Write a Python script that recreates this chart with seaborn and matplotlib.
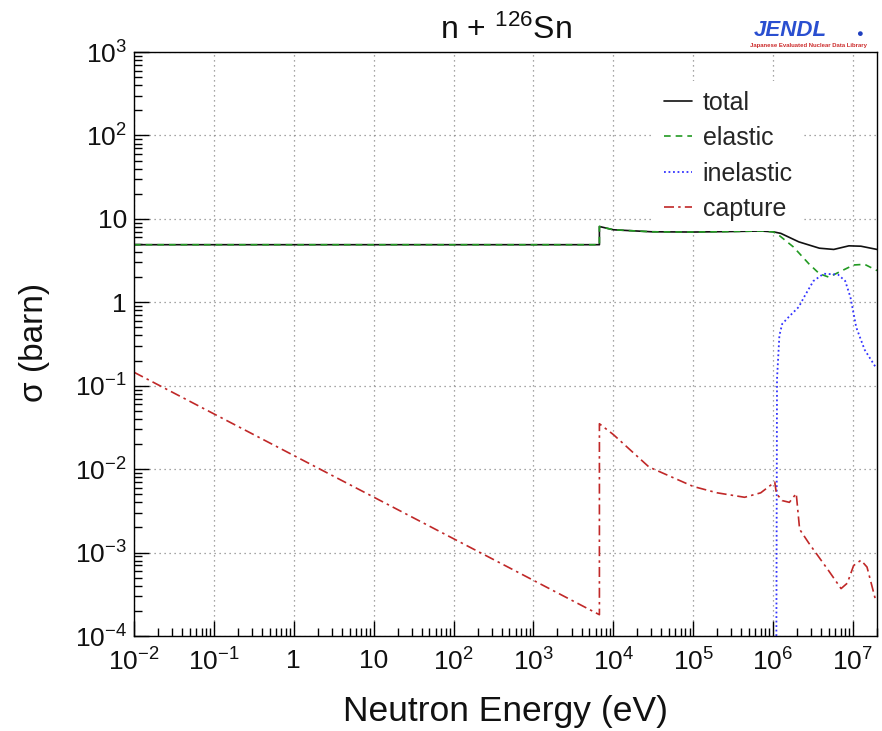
import numpy as np
import pandas as pd
import matplotlib
matplotlib.use("Agg")
import matplotlib.pyplot as plt
from matplotlib.ticker import LogLocator, FuncFormatter, NullFormatter
import seaborn as sns

# Evaluated cross sections for n + 126Sn (energy in eV, cross section in barn)
total_energy = [1e-2, 6.7e3, 6.7e3, 1e4, 3e4, 1e5, 3e5, 7e5, 1e6, 1.25e6,
                2.1e6, 3.8e6, 5.75e6, 8.9e6, 1.26e7, 2e7]
total_xs = [4.9, 4.9, 8.1, 7.4, 7.0, 6.95, 7.05, 7.15, 7.0, 6.7,
            5.3, 4.45, 4.3, 4.75, 4.7, 4.3]

elastic_energy = [1e-2, 6.7e3, 6.7e3, 1e4, 3e4, 1e5, 3e5, 7e5, 1e6, 1.2e6,
                  1.8e6, 2.8e6, 3.8e6, 5e6, 6.7e6, 1.02e7, 1.4e7, 2e7]
elastic_xs = [4.9, 4.9, 8.1, 7.4, 7.0, 6.95, 7.05, 7.15, 7.0, 6.3,
              4.6, 2.9, 2.2, 2.0, 2.3, 2.8, 2.85, 2.4]

inelastic_energy = [1.1e6, 1.12e6, 1.2e6, 1.3e6, 1.6e6, 2.1e6, 2.5e6, 3.2e6,
                    4.3e6, 6.5e6, 8e6, 9.3e6, 1.1e7, 1.4e7, 1.9e7]
inelastic_xs = [1e-4, 0.12, 0.4, 0.55, 0.68, 0.88, 1.2, 1.8,
                2.2, 2.15, 1.8, 1.15, 0.5, 0.27, 0.17]

capture_energy = [1e-2, 6.7e3, 6.7e3, 1e4, 2.8e4, 1e5, 2e5, 4.4e5, 7e5, 1.05e6,
                  1.1e6, 1.3e6, 1.6e6, 1.95e6, 2.15e6, 2.8e6, 5e6, 7.1e6,
                  8.5e6, 1.02e7, 1.26e7, 1.5e7, 1.9e7]
capture_xs = [0.145, 1.8e-4, 0.035, 0.026, 0.0106, 0.0062, 0.0052, 0.0046, 0.0052, 0.0070,
              0.0051, 0.0042, 0.0040, 0.0051, 0.0019, 0.0013, 6e-4, 3.7e-4,
              4.3e-4, 7e-4, 8.1e-4, 6.7e-4, 2.8e-4]

x_limits = (1e-2, 2e7)
y_limits = (1e-4, 1e3)

sns.set_theme(style="white")
plt.rcParams["font.family"] = ["Liberation Sans", "DejaVu Sans"]
plt.rcParams["mathtext.default"] = "regular"

W, H = 882, 731
fig = plt.figure(figsize=(W / 100, H / 100), dpi=100)
left, right, top, bottom = 134, 877, 52, 636
ax = fig.add_axes([left / W, 1 - bottom / H, (right - left) / W, (bottom - top) / H])
ax.set_xscale("log")
ax.set_yscale("log")

series = [
    ("total", total_energy, total_xs, "#111111", "-", 1.2),
    ("elastic", elastic_energy, elastic_xs, "#229a22", (0, (4, 3)), 1.2),
    ("inelastic", inelastic_energy, inelastic_xs, "#3333ff", (0, (1, 1.5)), 1.3),
    ("capture", capture_energy, capture_xs, "#c02828", (0, (6, 2.5, 1.5, 2.5)), 1.2),
]
for name, e, xs, color, ls, lw in series:
    df = pd.DataFrame({"energy": e, "xs": xs})
    sns.lineplot(data=df, x="energy", y="xs", ax=ax, estimator=None, sort=False,
                 color=color, linestyle=ls, linewidth=lw, label=name)

ax.set_xlim(*x_limits)
ax.set_ylim(*y_limits)


def decade_label(v, pos):
    e = int(round(np.log10(v)))
    if e == 0:
        return "1"
    if e == 1:
        return "10"
    return f"$10^{{{e}}}$"


for axis in (ax.xaxis, ax.yaxis):
    axis.set_major_locator(LogLocator(base=10, numticks=20))
    axis.set_minor_locator(LogLocator(base=10, subs=np.arange(2, 10), numticks=20))
    axis.set_major_formatter(FuncFormatter(decade_label))
    axis.set_minor_formatter(NullFormatter())

ax.tick_params(axis="both", which="both", bottom=True, left=True, top=False, right=False)
ax.tick_params(axis="both", which="major", direction="in", length=11, width=1,
               color="black", labelsize=19, labelcolor="#111111")
ax.tick_params(axis="both", which="minor", direction="in", length=5.5, width=1,
               color="black")
ax.tick_params(axis="x", which="major", pad=9)
ax.tick_params(axis="y", which="major", pad=5)

ax.grid(True, which="major", color="#888888", linestyle=(0, (1, 3)), linewidth=0.9)
for s in ax.spines.values():
    s.set_color("black")
    s.set_linewidth(1)
ax.set_xlabel("")
ax.set_ylabel("")

leg = ax.legend(loc="upper left", bbox_to_anchor=(0.70, 0.951), frameon=True,
                fontsize=18, handlelength=1.12, handletextpad=0.42,
                labelspacing=0.46, borderpad=0.4, borderaxespad=0)
leg.get_frame().set_facecolor("white")
leg.get_frame().set_edgecolor("none")
leg.get_frame().set_alpha(1)

fig.text(505.5 / W, 1 - 30 / H, "n + $^{126}$Sn", ha="center", va="center",
         fontsize=23, color="#111111")
fig.text(505.5 / W, 1 - 712 / H, "Neutron Energy (eV)", ha="center", va="center",
         fontsize=25.5, color="#111111")
fig.text(35 / W, 1 - 342 / H, "σ (barn)", ha="center", va="center",
         rotation=90, fontsize=24, color="#111111")

# JENDL badge in the top right corner
fig.text(790 / W, 1 - 31 / H, "JENDL", ha="center", va="center", fontsize=16,
         style="italic", weight="bold", color="#2a4fd0")
fig.text(859 / W, 1 - 34 / H, "●", ha="center", va="center", fontsize=8,
         color="#1f3fbf")
fig.text(808 / W, 1 - 45 / H, "Japanese Evaluated Nuclear Data Library",
         ha="center", va="center", fontsize=4.3, weight="bold", color="#cc2a2a")

fig.savefig("out.png", dpi=100, facecolor="white")
